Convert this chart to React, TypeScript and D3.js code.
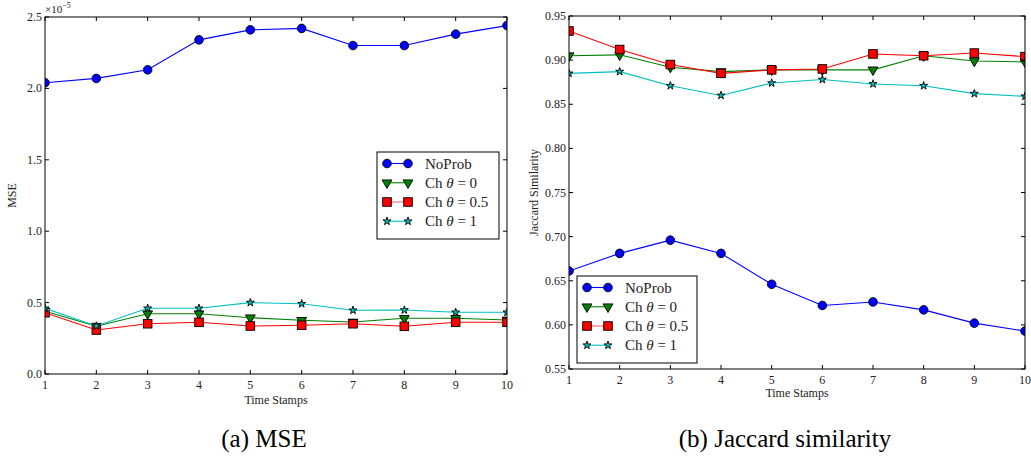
import React from "react";
import * as d3 from "d3";

const timeStamps = [1, 2, 3, 4, 5, 6, 7, 8, 9, 10];
const seriesNames = ["NoProb", "Ch θ = 0", "Ch θ = 0.5", "Ch θ = 1"];

// MSE values (×1e-5)
const mseNoProb = [2.04, 2.07, 2.13, 2.34, 2.41, 2.42, 2.30, 2.30, 2.38, 2.44];
const mseTheta0 = [0.44, 0.335, 0.422, 0.422, 0.394, 0.376, 0.364, 0.39, 0.39, 0.378];
const mseTheta05 = [0.429, 0.308, 0.352, 0.362, 0.336, 0.341, 0.352, 0.334, 0.362, 0.362];
const mseTheta1 = [0.46, 0.336, 0.46, 0.46, 0.50, 0.492, 0.446, 0.448, 0.432, 0.432];

// Jaccard similarity values
const jacNoProb = [0.661, 0.681, 0.696, 0.681, 0.646, 0.622, 0.626, 0.617, 0.602, 0.593];
const jacTheta0 = [0.905, 0.906, 0.892, 0.887, 0.889, 0.889, 0.889, 0.905, 0.899, 0.898];
const jacTheta05 = [0.933, 0.912, 0.895, 0.885, 0.889, 0.890, 0.907, 0.905, 0.908, 0.904];
const jacTheta1 = [0.885, 0.887, 0.871, 0.860, 0.874, 0.878, 0.873, 0.871, 0.862, 0.859];

const mseTicks = [0.0, 0.5, 1.0, 1.5, 2.0, 2.5];
const jacTicks = [0.55, 0.6, 0.65, 0.7, 0.75, 0.8, 0.85, 0.9, 0.95];

const colors = ["#0000ff", "#008000", "#ff0000", "#00bfbf"];
const FONT = "Liberation Serif, DejaVu Serif, serif";

type Marker = "circle" | "tri" | "square" | "star";
const markers: Marker[] = ["circle", "tri", "square", "star"];

function MarkerShape({ kind, x, y, color }: { kind: Marker; x: number; y: number; color: string }) {
  if (kind === "circle") return <circle cx={x} cy={y} r={4.3} fill={color} stroke="#000" strokeWidth={0.9} />;
  if (kind === "square") return <rect x={x - 4.3} y={y - 4.3} width={8.6} height={8.6} fill={color} stroke="#000" strokeWidth={0.9} />;
  if (kind === "tri") {
    const p = d3.symbol(d3.symbolTriangle, 42)()!;
    return <path d={p} transform={`translate(${x},${y}) rotate(180)`} fill={color} stroke="#000" strokeWidth={0.9} />;
  }
  const s = d3.symbol(d3.symbolStar, 20)()!;
  return <path d={s} transform={`translate(${x},${y})`} fill={color} stroke="#000" strokeWidth={0.9} />;
}

function Panel(props: {
  id: string;
  x0: number; x1: number; y0: number; y1: number;
  domain: [number, number];
  ticks: number[];
  fmt: (v: number) => string;
  series: number[][];
  yLabel: string;
  yLabelX: number;
  legend: { x: number; y: number; w: number; h: number };
  xLabelY: number;
  exponent?: boolean;
}) {
  const { id, x0, x1, y0, y1, domain, ticks, fmt, series, yLabel, yLabelX, legend, xLabelY } = props;
  const xs = d3.scaleLinear().domain([1, 10]).range([x0, x1]);
  const ys = d3.scaleLinear().domain(domain).range([y1, y0]);
  const tl = 4;
  const line = d3.line<number>().x((_, i) => xs(timeStamps[i])).y((d) => ys(d));
  const rowH = (legend.h - 10) / 4;
  return (
    <g>
      <defs>
        <clipPath id={id}>
          <rect x={x0} y={y0} width={x1 - x0} height={y1 - y0} />
        </clipPath>
      </defs>
      <g clipPath={`url(#${id})`}>
        {series.map((s, k) => (
          <g key={k}>
            <path d={line(s)!} fill="none" stroke={colors[k]} strokeWidth={1.1} />
            {s.map((v, i) => (
              <MarkerShape key={i} kind={markers[k]} x={xs(timeStamps[i])} y={ys(v)} color={colors[k]} />
            ))}
          </g>
        ))}
      </g>
      <rect x={x0} y={y0} width={x1 - x0} height={y1 - y0} fill="none" stroke="#000" strokeWidth={1} />
      {timeStamps.map((t) => (
        <g key={t}>
          <line x1={xs(t)} x2={xs(t)} y1={y1} y2={y1 - tl} stroke="#000" />
          <line x1={xs(t)} x2={xs(t)} y1={y0} y2={y0 + tl} stroke="#000" />
          <text x={xs(t)} y={y1 + 15} textAnchor="middle" fontFamily={FONT} fontSize={12} fill="#222">{t}</text>
        </g>
      ))}
      {ticks.map((t) => (
        <g key={t}>
          <line x1={x0} x2={x0 + tl} y1={ys(t)} y2={ys(t)} stroke="#000" />
          <line x1={x1} x2={x1 - tl} y1={ys(t)} y2={ys(t)} stroke="#000" />
          <text x={x0 - 3} y={ys(t) + 4} textAnchor="end" fontFamily={FONT} fontSize={12} fill="#222">{fmt(t)}</text>
        </g>
      ))}
      {props.exponent && (
        <text x={x0} y={y0 - 4} fontFamily={FONT} fontSize={11} fill="#222">
          ×10<tspan dy={-5} fontSize={8}>−5</tspan>
        </text>
      )}
      <text x={(x0 + x1) / 2} y={xLabelY} textAnchor="middle" fontFamily={FONT} fontSize={12} fill="#222">Time Stamps</text>
      <text transform={`translate(${yLabelX},${(y0 + y1) / 2}) rotate(-90)`} textAnchor="middle" fontFamily={FONT} fontSize={12} fill="#222">{yLabel}</text>
      <rect x={legend.x} y={legend.y} width={legend.w} height={legend.h} fill="#fff" stroke="#000" strokeWidth={1} />
      {seriesNames.map((n, k) => {
        const cy = legend.y + 11.5 + k * rowH;
        const lx0 = legend.x + 10;
        const lx1 = legend.x + 31;
        const parts = n.split("θ");
        return (
          <g key={k}>
            <line x1={lx0} x2={lx1} y1={cy} y2={cy} stroke={colors[k]} strokeWidth={1.1} opacity={k === 2 ? 0.6 : 1} />
            <MarkerShape kind={markers[k]} x={lx0} y={cy} color={colors[k]} />
            <MarkerShape kind={markers[k]} x={lx1} y={cy} color={colors[k]} />
            <text x={legend.x + 48} y={cy + 5} fontFamily={FONT} fontSize={15} fill="#222">
              {parts.length > 1 ? (
                <>
                  {parts[0]}
                  <tspan fontStyle="italic">θ</tspan>
                  {parts[1]}
                </>
              ) : n}
            </text>
          </g>
        );
      })}
    </g>
  );
}

export default function App() {
  return (
    <svg width={1031} height={459} style={{ position: "absolute", left: 0, top: 0, background: "#fff" }}>
      <rect width={1031} height={459} fill="#fff" />
      <Panel
        id="clipA"
        x0={45} x1={507} y0={17} y1={374}
        domain={[0, 2.5]}
        ticks={mseTicks}
        fmt={(v) => v.toFixed(1)}
        series={[mseNoProb, mseTheta0, mseTheta05, mseTheta1]}
        yLabel="MSE"
        yLabelX={16}
        legend={{ x: 377, y: 152, w: 122, h: 87 }}
        xLabelY={404}
        exponent
      />
      <Panel
        id="clipB"
        x0={569} x1={1025} y0={16} y1={369}
        domain={[0.55, 0.95]}
        ticks={jacTicks}
        fmt={(v) => v.toFixed(2)}
        series={[jacNoProb, jacTheta0, jacTheta05, jacTheta1]}
        yLabel="Jaccard Similarity"
        yLabelX={538}
        legend={{ x: 577, y: 276, w: 120, h: 87 }}
        xLabelY={397}
      />
      <text x={264} y={447} textAnchor="middle" fontFamily={FONT} fontSize={25} fill="#000">(a) MSE</text>
      <text x={785} y={447} textAnchor="middle" fontFamily={FONT} fontSize={25} fill="#000">(b) Jaccard similarity</text>
    </svg>
  );
}
